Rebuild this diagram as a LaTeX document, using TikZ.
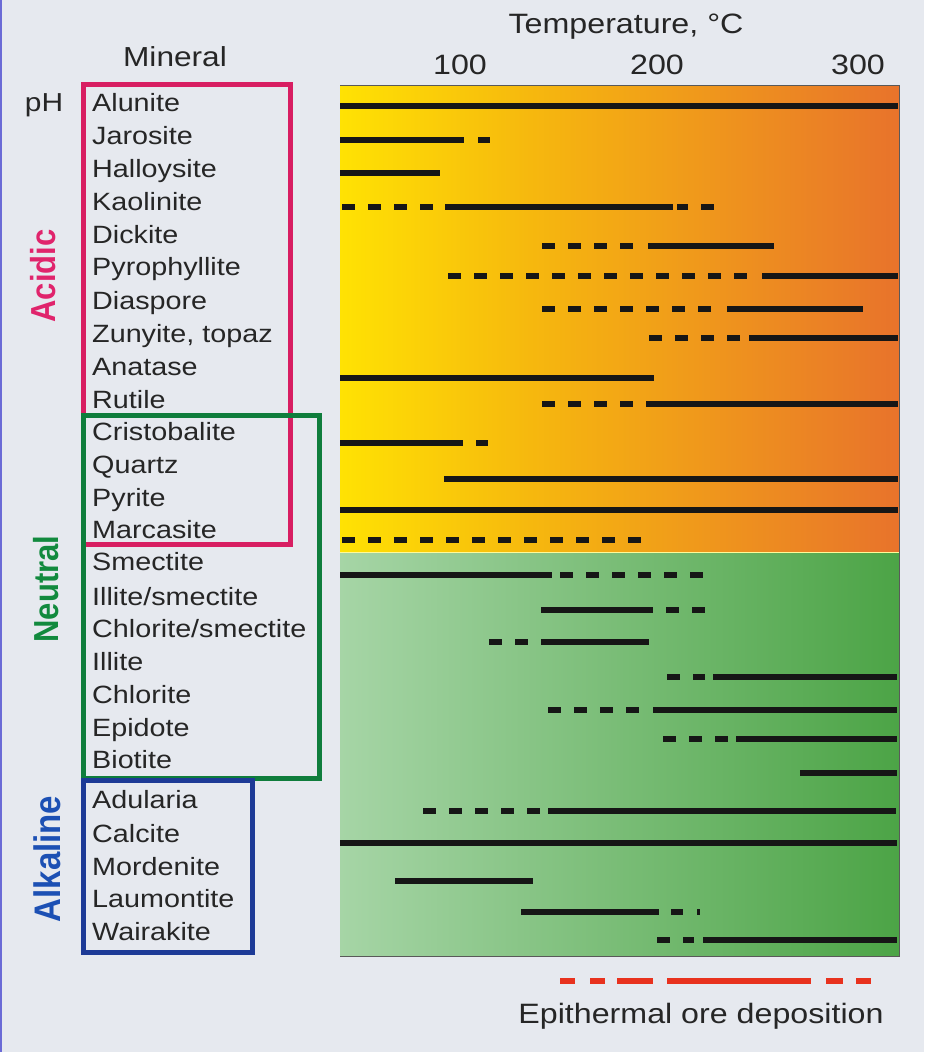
\documentclass[tikz,border=0pt]{standalone}
\usepackage{fontspec}
\usepackage{graphicx}
\setmainfont{Liberation Sans}[FakeStretch=1.15]
\newfontfamily\lblfont{Liberation Sans}
\definecolor{bgc}{HTML}{E6E9EF}
\definecolor{edgec}{HTML}{6B6BD6}
\definecolor{txt}{HTML}{262626}
\definecolor{cyel}{HTML}{FFE203}
\definecolor{cgold}{HTML}{F6B80E}
\definecolor{corg}{HTML}{E8732B}
\definecolor{gl}{HTML}{A6D5A6}
\definecolor{gd}{HTML}{4CA446}
\definecolor{barc}{HTML}{161616}
\definecolor{orec}{HTML}{E8321E}
\definecolor{acidc}{HTML}{E0246C}
\definecolor{acidbox}{HTML}{D81E62}
\definecolor{neutc}{HTML}{128A3E}
\definecolor{neutbox}{HTML}{0F7D3C}
\definecolor{alkc}{HTML}{1C50B4}
\definecolor{alkbox}{HTML}{1D3A96}
\pgfdeclarehorizontalshading{acidsh}{100bp}{color(0bp)=(cyel); color(25bp)=(cyel); color(42bp)=(cgold); color(75bp)=(corg); color(100bp)=(corg)}
\pgfdeclarehorizontalshading{neutsh}{100bp}{color(0bp)=(gl); color(25bp)=(gl); color(75bp)=(gd); color(100bp)=(gd)}
\newcommand\sseg[3]{\draw[barline] (#2,#1) -- (#3,#1);}
\newcommand\dseg[3]{\draw[dashline] (#2,#1) -- (#3,#1);}
\newcommand\oseg[2]{\draw[oreline] (#1,981) -- (#2,981);}
\begin{document}
\begin{tikzpicture}[x=1pt,y=-1pt,
  mineral/.style={anchor=base west, inner sep=0pt, font=\fontsize{25}{30}\selectfont, text=txt},
  headtext/.style={anchor=base, inner sep=0pt, font=\fontsize{28}{32}\selectfont, text=txt},
  barline/.style={line width=5.2pt, draw=barc},
  dashline/.style={barline, dash pattern=on 13pt off 13pt},
  oreline/.style={line width=5.2pt, draw=orec},
  grouplabel/.style={rotate=90, anchor=base, inner sep=0pt, font=\lblfont\bfseries\fontsize{31}{36}\selectfont},
  groupbox/.style={line width=5pt}]
\useasboundingbox (0,0) rectangle (924,1052);
\fill[bgc] (0,0) rectangle (924,1052);
\draw[edgec, line width=2.5pt] (1,0) -- (1,1052);

% chart background
\shade[shading=acidsh] (340,85) rectangle (899,552);
\shade[shading=neutsh] (340,552) rectangle (899,956);
\draw[white!60!yellow, line width=1pt] (340,552) -- (899,552);
\draw[black!65, line width=1pt] (340,85) -- (899,85) -- (899,956) -- (340,956);

% headings
\node[headtext] (temp) at (626,33) {Temperature, °C};
\node[headtext] (t100) at (460,74) {100};
\node[headtext] (t200) at (657,74) {200};
\node[headtext] (t300) at (858,74) {300};
\node[anchor=base, inner sep=0pt, font=\fontsize{27.5}{32}\selectfont, text=txt] (mineralhead) at (175,66) {Mineral};
\node[anchor=base, inner sep=0pt, font=\fontsize{26}{30}\selectfont, text=txt] (ph) at (44,111) {pH};

% group boxes
\draw[groupbox, acidbox] (83,84) rectangle (290,544);
\draw[groupbox, neutbox] (83,415) rectangle (319,778);
\draw[groupbox, alkbox] (83,780) rectangle (252,952);

% group labels
\node[grouplabel, text=acidc] (acidic) at (55,276) {\scalebox{1}[1.12]{Acidic}};
\node[grouplabel, text=neutc] (neutral) at (58,589) {\scalebox{1}[1.12]{Neutral}};
\node[grouplabel, text=alkc, font=\lblfont\bfseries\fontsize{33}{38}\selectfont] (alkaline) at (60,859) {\scalebox{1}[1.12]{Alkaline}};

% minerals
\node[mineral] (alunite) at (92,111) {Alunite};
\node[mineral] (jarosite) at (92,144) {Jarosite};
\node[mineral] (halloysite) at (92,177) {Halloysite};
\node[mineral] (kaolinite) at (92,210) {Kaolinite};
\node[mineral] (dickite) at (92,243) {Dickite};
\node[mineral] (pyrophyllite) at (92,275) {Pyrophyllite};
\node[mineral] (diaspore) at (92,309) {Diaspore};
\node[mineral] (zunyite) at (92,342) {Zunyite, topaz};
\node[mineral] (anatase) at (92,375) {Anatase};
\node[mineral] (rutile) at (92,408) {Rutile};
\node[mineral] (cristobalite) at (92,440) {Cristobalite};
\node[mineral] (quartz) at (92,473) {Quartz};
\node[mineral] (pyrite) at (92,506) {Pyrite};
\node[mineral] (marcasite) at (92,538) {Marcasite};
\node[mineral] (smectite) at (92,570) {Smectite};
\node[mineral] (illsme) at (92,605) {Illite/smectite};
\node[mineral] (chlsme) at (92,637) {Chlorite/smectite};
\node[mineral] (illite) at (92,670) {Illite};
\node[mineral] (chlorite) at (92,703) {Chlorite};
\node[mineral] (epidote) at (92,736) {Epidote};
\node[mineral] (biotite) at (92,768) {Biotite};
\node[mineral] (adularia) at (92,808) {Adularia};
\node[mineral] (calcite) at (92,842) {Calcite};
\node[mineral] (mordenite) at (92,875) {Mordenite};
\node[mineral] (laumontite) at (92,907) {Laumontite};
\node[mineral] (wairakite) at (92,940) {Wairakite};

% bars
\sseg{106}{340}{898}
\sseg{140}{340}{464} \sseg{140}{478}{490}
\sseg{173}{340}{440}
\dseg{207}{342}{433} \sseg{207}{445}{673} \sseg{207}{677}{688} \sseg{207}{701}{714}
\dseg{246}{542}{634} \sseg{246}{648}{774}
\dseg{276}{448}{749} \sseg{276}{762}{898}
\dseg{309}{542}{712} \sseg{309}{727}{863}
\dseg{338}{649}{741} \sseg{338}{749}{898}
\sseg{378}{340}{654}
\dseg{404}{542}{633} \sseg{404}{646}{898}
\sseg{443}{340}{463} \sseg{443}{476}{488}
\sseg{479}{444}{898}
\sseg{510}{340}{898}
\dseg{540}{342}{641}
\sseg{575}{340}{552} \dseg{575}{560}{705}
\sseg{610}{541}{653} \dseg{610}{666}{705}
\dseg{642}{489}{529} \sseg{642}{541}{649}
\dseg{677}{667}{705} \sseg{677}{713}{897}
\dseg{710}{548}{640} \sseg{710}{653}{897}
\dseg{739}{663}{728} \sseg{739}{736}{897}
\sseg{773}{800}{897}
\dseg{811}{423}{540} \sseg{811}{548}{896}
\sseg{843}{340}{897}
\sseg{881}{395}{533}
\sseg{912}{521}{659} \sseg{912}{671}{683} \sseg{912}{697}{700}
\dseg{940}{657}{694} \sseg{940}{703}{897}

% epithermal ore deposition
\oseg{560}{575} \oseg{590}{605} \oseg{617}{653} \oseg{667}{811} \oseg{826}{843} \oseg{856}{871}
\node[headtext] (ore) at (701,1023) {Epithermal ore deposition};
\end{tikzpicture}
\end{document}
